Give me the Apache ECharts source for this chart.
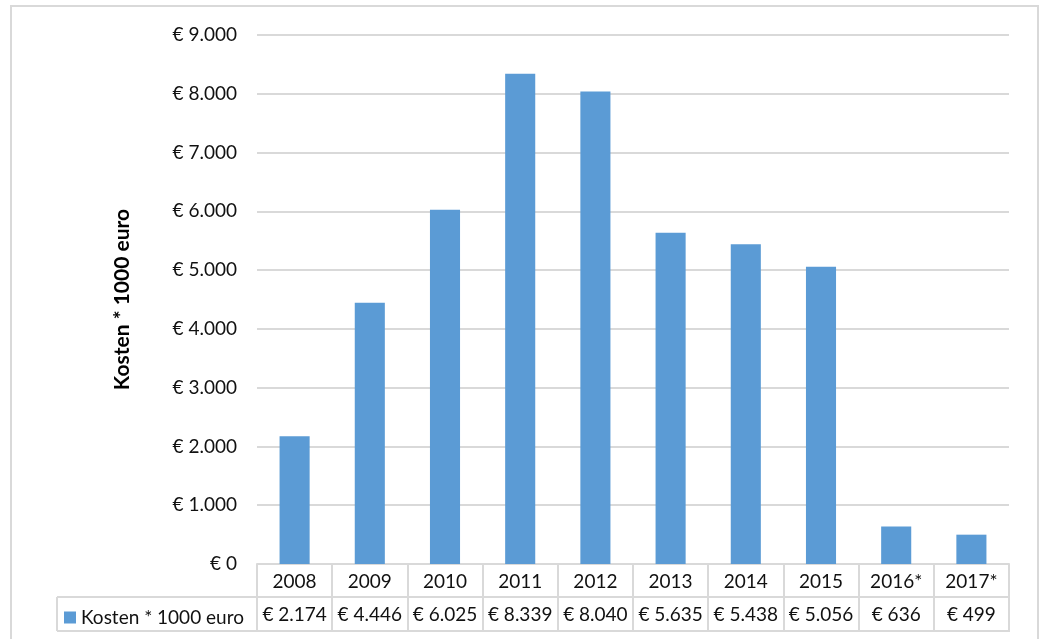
<!DOCTYPE html>
<html>
<head>
<meta charset="utf-8">
<script src="https://cdn.jsdelivr.net/npm/echarts@6/dist/echarts.min.js"></script>
<style>
  html, body { margin: 0; padding: 0; background: #fff; }
  #chart { width: 1040px; height: 639px; }
</style>
</head>
<body>
<div id="chart"></div>
<script>
var years = ['2008', '2009', '2010', '2011', '2012', '2013', '2014', '2015', '2016*', '2017*'];
var kosten = [2174, 4446, 6025, 8339, 8040, 5635, 5438, 5056, 636, 499];
var seriesName = 'Kosten * 1000 euro';
var yMin = 0, yMax = 9000, yStep = 1000;

function euro(v) {
    return '€ ' + String(v).replace(/\B(?=(\d{3})+(?!\d))/g, '.');
}

var font = 'Lato, "Open Sans", sans-serif';
var border = '#d9d9d9';

var chart = echarts.init(document.getElementById('chart'));

var option = {
    backgroundColor: '#fff',
    textStyle: { fontFamily: font },
    animation: false,
    grid: { left: 257, right: 31, top: 35, bottom: 75 },
    legend: {
        data: [seriesName],
        left: 59, top: 603,
        itemWidth: 12, itemHeight: 12, itemGap: 0,
        icon: 'rect',
        textStyle: { fontFamily: font, fontSize: 19, color: '#111' }
    },
    xAxis: [{
        type: 'category',
        data: years,
        position: 'bottom',
        axisLine: { show: true, lineStyle: { color: border, width: 2 } },
        axisTick: { show: true, interval: 0, length: 67, lineStyle: { color: border, width: 2 } },
        axisLabel: { interval: 0, margin: 8, fontSize: 19, color: '#111', fontFamily: font }
    }, {
        type: 'category',
        data: kosten.map(euro),
        position: 'bottom',
        offset: 33,
        axisLine: { show: true, lineStyle: { color: border, width: 2 } },
        axisTick: { show: false },
        axisLabel: { interval: 0, margin: 8, fontSize: 19, color: '#111', fontFamily: font }
    }],
    yAxis: {
        type: 'value',
        min: yMin, max: yMax, interval: yStep,
        name: seriesName,
        nameLocation: 'middle',
        nameGap: 124,
        nameTextStyle: { fontSize: 21, fontWeight: 'bold', color: '#000', fontFamily: font },
        axisLine: { show: false },
        axisTick: { show: false },
        axisLabel: { margin: 20, fontSize: 19, color: '#111', fontFamily: font, formatter: euro },
        splitLine: { lineStyle: { color: border, width: 2 } }
    },
    series: [{
        name: seriesName,
        type: 'bar',
        data: kosten,
        barWidth: '40%',
        itemStyle: { color: '#5b9bd5' }
    }],
    graphic: [
        // outer chart frame
        { type: 'rect', shape: { x: 11, y: 6, width: 1027, height: 660 }, style: { fill: null, stroke: border, lineWidth: 2 }, silent: true },
        // data table: legend cell and bottom line
        { type: 'line', shape: { x1: 57, y1: 597, x2: 257, y2: 597 }, style: { stroke: border, lineWidth: 2 } },
        { type: 'line', shape: { x1: 57, y1: 631, x2: 1010, y2: 631 }, style: { stroke: border, lineWidth: 2 } },
        { type: 'line', shape: { x1: 57, y1: 597, x2: 57, y2: 631 }, style: { stroke: border, lineWidth: 2 } }
    ]
};

chart.setOption(option);
</script>
</body>
</html>
